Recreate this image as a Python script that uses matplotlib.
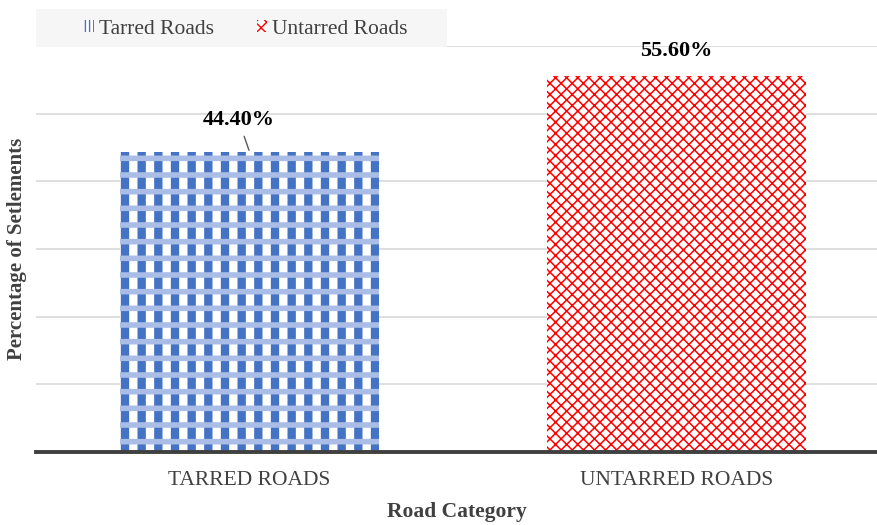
import matplotlib.pyplot as plt
from matplotlib.patches import Rectangle

categories = ["TARRED ROADS", "UNTARRED ROADS"]
series_names = ["Tarred Roads", "Untarred Roads"]
values = [44.4, 55.6]
value_labels = ["44.40%", "55.60%"]

plt.rcParams['font.family'] = ['Liberation Serif', 'DejaVu Serif']

fig = plt.figure(figsize=(8.78, 5.25), dpi=100)
ax = fig.add_axes([36 / 878, 1 - 452 / 525, 841 / 878, 406 / 525])

blue = '#4472c4'
light_blue = '#a9bde6'
red = '#ff0000'

# tarred bar: vertical columns + light horizontal bands
b1 = ax.bar(0, values[0], width=0.607, color='white', edgecolor=blue, linewidth=0, hatch='|', zorder=2)
b1b = ax.bar(0, values[0], width=0.607, color='none', edgecolor=light_blue, linewidth=0, hatch='-', zorder=3)
# untarred bar: red zigzag-ish texture
b2 = ax.bar(1, values[1], width=0.607, color='white', edgecolor=red, linewidth=0, hatch='xxx', zorder=2)

for bars, lw in [(b1, 6.0), (b1b, 4.0), (b2, 1.1)]:
    for p in bars:
        if hasattr(p, 'set_hatch_linewidth'):
            p.set_hatch_linewidth(lw)

ax.set_xlim(-0.5, 1.47)
ax.set_ylim(0, 60)
ax.set_yticks(range(10, 61, 10))
ax.set_yticklabels([])
ax.tick_params(axis='y', length=0)
ax.grid(axis='y', color='#d9d9d9', linewidth=1.2, zorder=0)
for s in ['top', 'right', 'left']:
    ax.spines[s].set_visible(False)
ax.spines['bottom'].set_color('#404040')
ax.spines['bottom'].set_linewidth(2.8)
ax.spines['bottom'].set_zorder(5)

ax.set_xticks([0, 1])
ax.set_xticklabels(categories, fontsize=15.5, color='#404040')
ax.tick_params(axis='x', length=0, pad=14)
ax.set_xlabel("Road Category", fontsize=15.5, fontweight='bold', color='#404040')
ax.xaxis.set_label_coords(0.5, -50 / 406)
ax.set_ylabel("Percentage of Setlements", fontsize=15, fontweight='bold', color='#404040')
ax.yaxis.set_label_coords(-9 / 841, 0.5)

ax.annotate(value_labels[0], xy=(0, values[0]), xytext=(-8, 23), textcoords='offset points',
            ha='center', va='center', fontsize=16, fontweight='bold', color='black',
            arrowprops=dict(arrowstyle='-', color='#595959', lw=1, shrinkA=3, shrinkB=1))
ax.annotate(value_labels[1], xy=(1, values[1]), xytext=(0, 18), textcoords='offset points',
            ha='center', va='center', fontsize=16, fontweight='bold', color='black')

# legend box
fig.patches.append(Rectangle((36 / 878, 1 - 47 / 525), 411 / 878, 38 / 525,
                             transform=fig.transFigure, facecolor='#f6f6f6', edgecolor='none', zorder=0))
h1 = Rectangle((0, 0), 1, 1, facecolor='white', edgecolor=blue, linewidth=0, hatch='||||')
h2 = Rectangle((0, 0), 1, 1, facecolor='white', edgecolor=red, linewidth=0, hatch='xxx')
fig.legend([h1, h2], series_names, loc='center', bbox_to_anchor=(246 / 878, 1 - 29 / 525),
           ncol=2, frameon=False, fontsize=15.5, labelcolor='#404040',
           handlelength=0.45, handleheight=0.5, handletextpad=0.25, columnspacing=2.0)

fig.savefig('out.png', dpi=100)
